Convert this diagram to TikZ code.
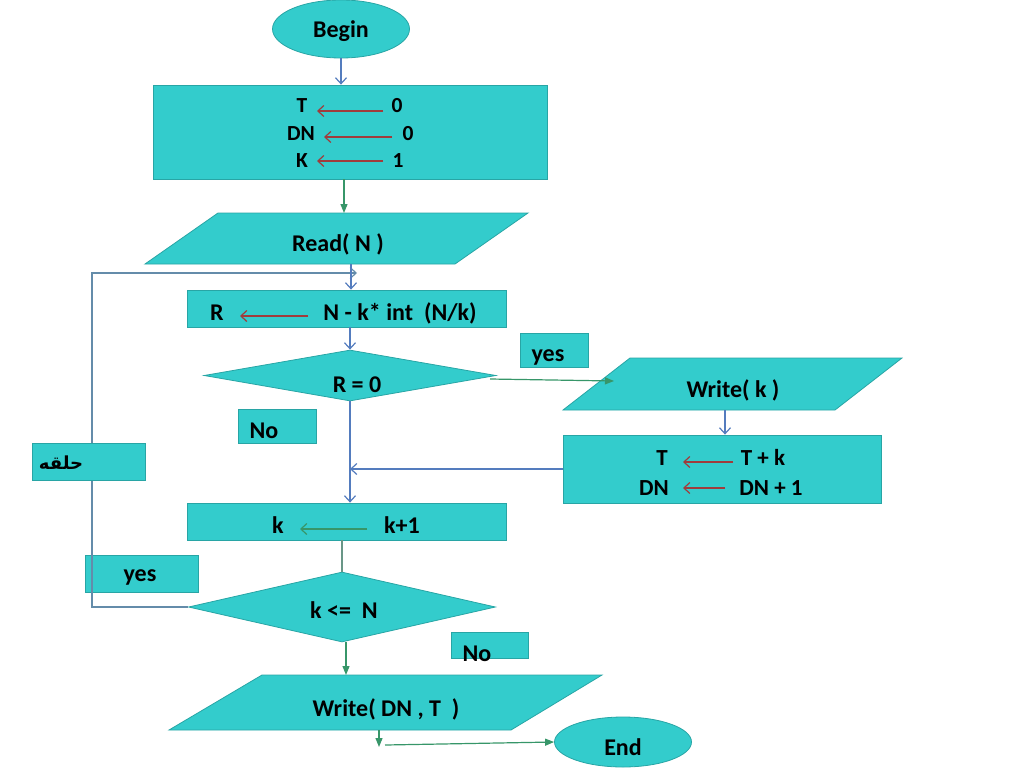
\documentclass[tikz,border=0pt]{standalone}
\usepackage{fontspec}
\setmainfont{Carlito}
\newfontfamily\arabicfont[Script=Arabic]{DejaVu Sans}
\TeXXeTstate=1
\usetikzlibrary{shapes.geometric,arrows.meta}
\definecolor{tealfill}{RGB}{51,204,204}
\definecolor{tealedge}{RGB}{40,165,165}
\definecolor{blueln}{RGB}{84,124,190}
\definecolor{greenln}{RGB}{55,150,105}
\definecolor{redln}{RGB}{160,60,60}
\definecolor{grayln}{RGB}{105,150,135}
\definecolor{loopln}{RGB}{100,140,170}
\begin{document}
\begin{tikzpicture}[x=1pt,y=-1pt,
  shp/.style={draw=tealedge, fill=tealfill, line width=0.8pt},
  boxn/.style={shp, rectangle, inner sep=0pt},
  lbl/.style={font=\fontsize{24}{28}\selectfont\bfseries, inner sep=0pt, anchor=base},
  lblsm/.style={font=\fontsize{21.5}{24}\selectfont\bfseries, inner sep=0pt, anchor=base},
  lblmd/.style={font=\fontsize{23}{26}\selectfont\bfseries, inner sep=0pt, anchor=base},
  barb/.style={-{Straight Barb[length=6pt,width=11pt]}},
  tri/.style={-{Triangle[length=9pt,width=7pt]}},
  bl/.style={draw=blueln, line width=1.2pt},
  gr/.style={draw=greenln, line width=1.2pt},
  rd/.style={draw=redln, line width=1.2pt},
  gy/.style={draw=grayln, line width=1.2pt},
  lp/.style={draw=loopln, line width=1.2pt},
]
\useasboundingbox (0,0) rectangle (1024,768);

% ---------- shapes ----------
\node[shp, ellipse, inner sep=0pt, minimum width=137pt, minimum height=58pt] (begin) at (341,29) {};
\node[boxn, minimum width=394pt, minimum height=94pt] (init) at (350,132) {};
\filldraw[shp] (218,213) -- (528,213) -- (455,264) -- (145,264) -- cycle;
\node[boxn, minimum width=319pt, minimum height=37pt] (rbox) at (346.5,308.5) {};
\node[shp, diamond, inner sep=0pt, minimum width=292pt, minimum height=51pt] (d1) at (350,375.5) {};
\node[boxn, minimum width=68pt, minimum height=34pt] (yes1) at (554,350) {};
\filldraw[shp] (630,358) -- (902,358) -- (835,410) -- (563,410) -- cycle;
\node[boxn, minimum width=318pt, minimum height=68pt] (tkbox) at (722,469) {};
\node[boxn, minimum width=78pt, minimum height=34pt] (no1) at (277,426) {};
\node[boxn, minimum width=319pt, minimum height=37pt] (kbox) at (346.5,521.5) {};
\node[boxn, minimum width=113pt, minimum height=37pt] (yes2) at (141.5,573.5) {};
\node[shp, diamond, inner sep=0pt, minimum width=307pt, minimum height=70pt] (d2) at (342,607) {};
\node[boxn, minimum width=77pt, minimum height=26pt] (no2) at (490,645) {};
\filldraw[shp] (262,675) -- (602,675) -- (511,730) -- (169,730) -- cycle;
\node[shp, ellipse, inner sep=0pt, minimum width=137pt, minimum height=50pt] (end) at (623,742) {};

% ---------- named coordinates ----------
\coordinate (readtop) at (344,213);
\coordinate (readbot) at (351,264);
\coordinate (d1r) at (490,379);
\coordinate (wkleft) at (614,381);
\coordinate (wkbot) at (725,410);
\coordinate (wdtop) at (346,675);
\coordinate (wdbot) at (379,730);
\coordinate (wdend) at (379,747);
\coordinate (endst) at (385,745);
\coordinate (loopbl) at (92,607);
\coordinate (looptl) at (92,273);
\coordinate (loopend) at (357,273);
\coordinate (a1s) at (383,111); \coordinate (a1e) at (317,111);
\coordinate (a2s) at (392,137); \coordinate (a2e) at (324,137);
\coordinate (a3s) at (383,161); \coordinate (a3e) at (317,161);
\coordinate (a4s) at (308,316); \coordinate (a4e) at (240,316);
\coordinate (a5s) at (733,462); \coordinate (a5e) at (683,462);
\coordinate (a6s) at (725,488); \coordinate (a6e) at (683,488);
\coordinate (a7s) at (367,529); \coordinate (a7e) at (300,529);

% ---------- loop line ----------
\draw[lp, barb] (d2.west) -- (loopbl) -- (looptl) -- (loopend);
\node[boxn, minimum width=113pt, minimum height=37pt] (halqabox) at (88.5,461.5) {};

% ---------- texts ----------
\node[lbl] (begint) at (341,37.5) {Begin};
\node[lblsm] (t1) at (302,112) {T};
\node[lblsm] (z1) at (397,112) {0};
\node[lblsm] (t2) at (301,140) {DN};
\node[lblsm] (z2) at (408,140) {0};
\node[lblsm] (t3) at (302,167) {K};
\node[lblsm] (z3) at (398,167) {1};
\node[lbl] (readt) at (338,251) {Read( N )};
\node[lbl] (rt) at (217,320) {R};
\node[lbl] (exprt) at (400,320) {N - k* int~~(N/k)};
\node[lbl] (d1t) at (357,392) {R = 0};
\node[lbl] (yes1t) at (548,361) {yes};
\node[lbl] (no1t) at (264,438) {No};
\node[lbl] (wkt) at (733,397) {Write( k )};
\node[lblmd] (tt) at (662,465) {T};
\node[lblmd] (tkt) at (763,465) {T + k};
\node[lblmd] (dnt) at (654,495) {DN};
\node[lblmd] (dn1t) at (771,495) {DN + 1};
\node[inner sep=0pt, anchor=base, font=\arabicfont\fontsize{18}{20}\selectfont\bfseries] (halqa) at (61,469) {\beginR حلقه\endR};
\node[lbl] (kt) at (278,533) {k};
\node[lbl] (k1t) at (402,533) {k+1};
\node[lbl] (yes2t) at (140,581) {yes};
\node[lbl] (d2t) at (344,618) {k <=~~N};
\node[lbl] (no2t) at (477,661) {No};
\node[lbl] (wdt) at (386,716) {Write( DN , T~~)};
\node[lbl] (endt) at (623,755) {End};

% ---------- connectors ----------
\draw[bl, barb] (begin.south) -- (begin.south |- init.north);
\draw[rd, barb] (a1s) -- (a1e);
\draw[rd, barb] (a2s) -- (a2e);
\draw[rd, barb] (a3s) -- (a3e);
\draw[gr, tri] (readtop |- init.south) -- (readtop);
\draw[bl, barb] (readbot) -- (readbot |- rbox.north);
\draw[rd, barb] (a4s) -- (a4e);
\draw[bl, barb] (rbox.south -| d1.north) -- (d1.north);
\draw[gr, tri] (d1r) -- (wkleft);
\draw[bl, barb] (wkbot) -- (wkbot |- tkbox.north);
\draw[rd, barb] (a5s) -- (a5e);
\draw[rd, barb] (a6s) -- (a6e);
\draw[bl, barb] (tkbox.west) -- (tkbox.west -| d1.south);
\draw[bl, barb] (d1.south) -- (d1.south |- kbox.north);
\draw[gr, barb] (a7s) -- (a7e);
\draw[gy] (kbox.south -| d2.north) -- (d2.north);
\draw[gr, tri] (wdtop |- d2.south) -- (wdtop);
\draw[gr, tri] (wdbot) -- (wdend);
\draw[gr, tri] (endst) -- (end.west);
\end{tikzpicture}
\end{document}
